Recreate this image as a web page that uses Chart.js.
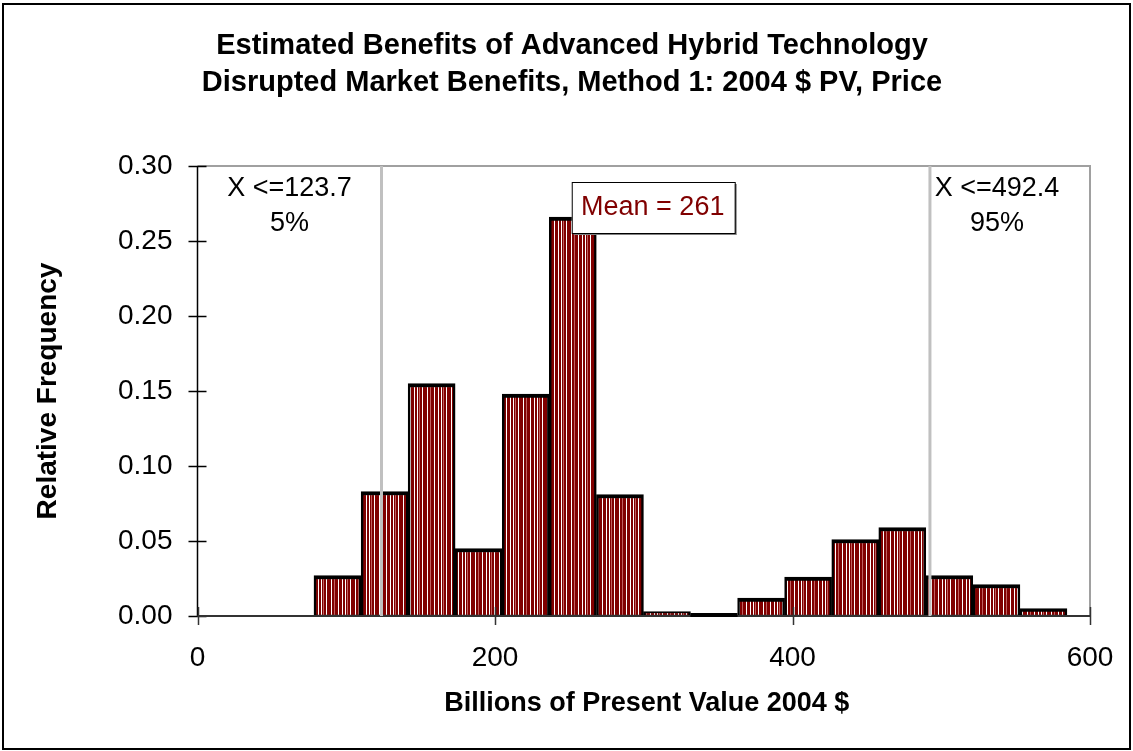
<!DOCTYPE html>
<html>
<head>
<meta charset="utf-8">
<script src="https://cdn.jsdelivr.net/npm/chart.js@4"></script>
<style>
  html, body { margin: 0; padding: 0; background: #fff; }
  #wrap { width: 1133px; height: 751px; position: relative; }
</style>
</head>
<body>
<div id="wrap"><canvas id="histChart"></canvas></div>
<script>
const titleLines = ["Estimated Benefits of Advanced Hybrid Technology", "Disrupted Market Benefits, Method 1: 2004 $ PV, Price"];
const xTitle = "Billions of Present Value 2004 $";
const yTitle = "Relative Frequency";

// histogram bins (centre, billions $) and relative frequency
const binCenters = [94.1, 125.8, 157.4, 189.0, 220.7, 252.3, 284.0, 315.6, 347.2, 378.9, 410.5, 442.2, 473.8, 505.4, 537.1, 568.7];
const relFreq = [0.027, 0.083, 0.155, 0.045, 0.148, 0.266, 0.081, 0.003, 0.0, 0.012, 0.026, 0.051, 0.059, 0.027, 0.021, 0.005];

const xTicks = [0, 200, 400, 600];
const yTicks = [0, 0.05, 0.10, 0.15, 0.20, 0.25, 0.30];

const pctValues = [123.7, 492.4];
const pctLabels = [["X <=123.7", "5%"], ["X <=492.4", "95%"]];
const meanValue = 261;
const meanLabel = "Mean = 261";

const fontFamily = "'Liberation Sans', Arial, sans-serif";
const barRed = "#800000";

// striped fill like the excel bars
function stripePattern() {
  const c = document.createElement("canvas");
  c.width = 24; c.height = 4;
  const g = c.getContext("2d");
  g.fillStyle = barRed;
  g.fillRect(0, 0, 24, 4);
  g.fillStyle = "#ffffff";
  [2, 6, 9, 14, 19].forEach(x => g.fillRect(x, 0, 1, 4));
  g.fillStyle = "#c06060";
  [11, 22].forEach(x => g.fillRect(x, 0, 1, 4));
  return g.createPattern(c, "repeat");
}

const decor = {
  id: "decor",
  beforeDraw(chart) {
    const ctx = chart.ctx;
    ctx.save();
    ctx.fillStyle = "#fff";
    ctx.fillRect(0, 0, chart.width, chart.height);
    ctx.strokeStyle = "#000";
    ctx.lineWidth = 2;
    ctx.strokeRect(3, 4, 1127, 745);

    ctx.fillStyle = "#000";
    ctx.textAlign = "center";
    ctx.textBaseline = "middle";
    ctx.font = "bold 29px " + fontFamily;
    ctx.fillText(titleLines[0], 572, 46);
    ctx.fillText(titleLines[1], 572, 83);

    const a = chart.chartArea;
    ctx.font = "bold 27px " + fontFamily;
    ctx.fillText(xTitle, (a.left + a.right) / 2 + 3, 704);
    ctx.save();
    ctx.translate(48, (a.top + a.bottom) / 2);
    ctx.rotate(-Math.PI / 2);
    ctx.font = "bold 28px " + fontFamily;
    ctx.fillText(yTitle, 0, 0);
    ctx.restore();

    // plot frame: grey top / right
    ctx.strokeStyle = "#a0a0a0";
    ctx.lineWidth = 2;
    ctx.beginPath();
    ctx.moveTo(a.left, a.top); ctx.lineTo(a.right, a.top); ctx.lineTo(a.right, a.bottom);
    ctx.stroke();
    ctx.restore();
  },
  afterDatasetsDraw(chart) {
    const ctx = chart.ctx;
    const a = chart.chartArea;
    const xs = chart.scales.x, ys = chart.scales.y;
    ctx.save();

    // axes with crossing tick marks
    ctx.strokeStyle = "#000";
    ctx.lineWidth = 1.5;
    ctx.beginPath();
    ctx.moveTo(a.left, a.top); ctx.lineTo(a.left, a.bottom);
    yTicks.forEach(v => {
      const y = Math.round(ys.getPixelForValue(v)) + 0.5;
      ctx.moveTo(a.left - 9, y); ctx.lineTo(a.left + 9, y);
    });
    ctx.stroke();
    ctx.strokeStyle = "#333";
    ctx.lineWidth = 2;
    ctx.beginPath();
    ctx.moveTo(a.left, a.bottom); ctx.lineTo(a.right, a.bottom);
    ctx.stroke();
    // empty bins show as a heavy baseline segment
    ctx.strokeStyle = "#000";
    ctx.lineWidth = 4;
    const half = (xs.getPixelForValue(binCenters[1]) - xs.getPixelForValue(binCenters[0])) / 2;
    relFreq.forEach((v, i) => {
      if (v === 0) {
        const cx = xs.getPixelForValue(binCenters[i]);
        ctx.beginPath();
        ctx.moveTo(cx - half, a.bottom - 1); ctx.lineTo(cx + half, a.bottom - 1);
        ctx.stroke();
      }
    });
    ctx.strokeStyle = "#333";
    ctx.lineWidth = 1.5;
    ctx.beginPath();
    xTicks.forEach(v => {
      const x = Math.round(xs.getPixelForValue(v)) + 0.5;
      ctx.moveTo(x, a.bottom - 9); ctx.lineTo(x, a.bottom + 9);
    });
    ctx.stroke();

    // percentile lines + labels
    ctx.strokeStyle = "#c0c0c0";
    ctx.lineWidth = 3;
    pctValues.forEach(v => {
      const x = xs.getPixelForValue(v);
      ctx.beginPath();
      ctx.moveTo(x, a.top); ctx.lineTo(x, a.bottom);
      ctx.stroke();
    });
    ctx.fillStyle = "#000";
    ctx.font = "27px " + fontFamily;
    ctx.textAlign = "center";
    ctx.textBaseline = "middle";
    const leftX = (a.left + xs.getPixelForValue(pctValues[0])) / 2;
    ctx.fillText(pctLabels[0][0], leftX, 189);
    ctx.fillText(pctLabels[0][1], leftX, 224);
    const rightX = xs.getPixelForValue(pctValues[1]) + 67;
    ctx.fillText(pctLabels[1][0], rightX, 189);
    ctx.fillText(pctLabels[1][1], rightX, 224);

    // mean box
    const mx = xs.getPixelForValue(meanValue) - 14;
    ctx.fillStyle = "#808080";
    ctx.fillRect(mx + 2, 184, 163, 51);
    ctx.fillStyle = "#fff";
    ctx.fillRect(mx, 182, 163, 51);
    ctx.strokeStyle = "#000";
    ctx.lineWidth = 1;
    ctx.strokeRect(mx + 0.5, 182.5, 163, 51);
    ctx.fillStyle = barRed;
    ctx.fillText(meanLabel, mx + 81, 208);
    ctx.restore();
  }
};

new Chart(document.getElementById("histChart"), {
  type: "bar",
  data: {
    datasets: [{
      data: binCenters.map((c, i) => ({ x: c, y: relFreq[i] })),
      backgroundColor: stripePattern(),
      borderColor: "#000",
      borderWidth: { top: 4, left: 2.5, right: 2.5, bottom: 1 },
      borderSkipped: false,
      barPercentage: 1,
      categoryPercentage: 1
    }]
  },
  options: {
    responsive: true,
    maintainAspectRatio: false,
    animation: false,
    layout: { padding: { top: 166, left: 0, right: 43, bottom: 0 } },
    plugins: { legend: { display: false }, tooltip: { enabled: false } },
    scales: {
      x: {
        type: "linear",
        min: 0, max: 600,
        offset: false,
        afterFit: s => { s.height = 135; },
        afterBuildTicks: s => { s.ticks = xTicks.map(v => ({ value: v })); },
        ticks: { color: "#000", padding: 16, maxRotation: 0, font: { family: fontFamily, size: 28 } },
        grid: { display: true, drawOnChartArea: false, drawTicks: true, tickLength: 9, color: "transparent" },
        border: { display: false }
      },
      y: {
        min: 0, max: 0.30,
        afterFit: s => { s.width = 197.5; },
        afterBuildTicks: s => { s.ticks = yTicks.map(v => ({ value: v })); },
        ticks: { color: "#000", padding: 16, font: { family: fontFamily, size: 28 }, callback: v => v.toFixed(2) },
        grid: { display: true, drawOnChartArea: false, drawTicks: true, tickLength: 9, color: "transparent" },
        border: { display: false }
      }
    }
  },
  plugins: [decor]
});
</script>
</body>
</html>
